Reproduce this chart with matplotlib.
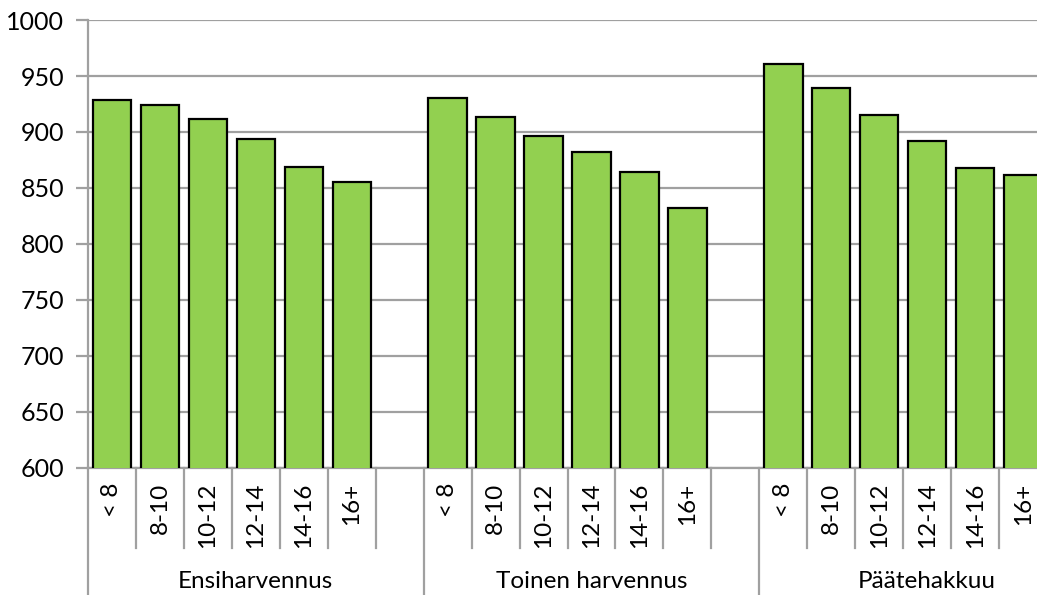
import matplotlib
matplotlib.use("Agg")
import matplotlib.pyplot as plt
import matplotlib.transforms as mtransforms

plt.rcParams["font.family"] = ["Lato", "DejaVu Sans"]

groups = ["Ensiharvennus", "Toinen harvennus", "Päätehakkuu"]
classes = ["< 8", "8-10", "10-12", "12-14", "14-16", "16+"]
ensiharvennus = [929, 924, 912, 894, 869, 855]
toinen_harvennus = [930, 913, 896, 882, 864, 832]
paatehakkuu = [961, 939, 915, 892, 868, 862]
values = [ensiharvennus, toinen_harvennus, paatehakkuu]

W, H = 1037, 595
fig = plt.figure(figsize=(W / 100, H / 100), dpi=100)
ax = fig.add_axes([88 / W, 127 / H, (W - 88) / W, 448 / H])

grid_col = "#a0a0a0"
slot = 7  # 6 bars + one empty slot per group

x, y = [], []
for g, vals in enumerate(values):
    for i, v in enumerate(vals):
        x.append(g * slot + i)
        y.append(v)

ax.bar(x, y, width=0.8, color="#92d050", edgecolor="black", linewidth=1.6, zorder=3)

ax.set_ylim(600, 1000)
ax.set_yticks(range(600, 1001, 50))
ax.set_xlim(-0.5, 19.29)
ax.set_xticks([])
ax.yaxis.grid(True, color=grid_col, linewidth=1.6, zorder=0)
for s in ["top", "right"]:
    ax.spines[s].set_visible(False)
ax.spines["left"].set_color(grid_col)
ax.spines["left"].set_linewidth(1.6)
ax.spines["bottom"].set_color(grid_col)
ax.spines["bottom"].set_linewidth(1.6)
ax.tick_params(axis="y", length=9, width=1.6, color=grid_col, pad=8, labelsize=18)

trans = mtransforms.blended_transform_factory(ax.transData, ax.transAxes)
short_y = -80 / 448
long_y = -127 / 448

# separators of the category axis
for g in range(len(groups)):
    start = g * slot - 0.5
    ax.plot([start, start], [0, long_y], color=grid_col, lw=1.6,
            transform=trans, clip_on=False)
    for i in range(1, slot):
        xs = start + i
        ax.plot([xs, xs], [0, short_y], color=grid_col, lw=1.6,
                transform=trans, clip_on=False)

# labels
for g, name in enumerate(groups):
    for i, c in enumerate(classes):
        ax.text(g * slot + i, -15 / 448, c, rotation=90, ha="center", va="top",
                fontsize=17.5, transform=trans, clip_on=False)
    ax.text(g * slot + 3, -114 / 448, name,
            ha="center", va="center", fontsize=17.5, transform=trans, clip_on=False)

fig.savefig("out.png", dpi=100)
